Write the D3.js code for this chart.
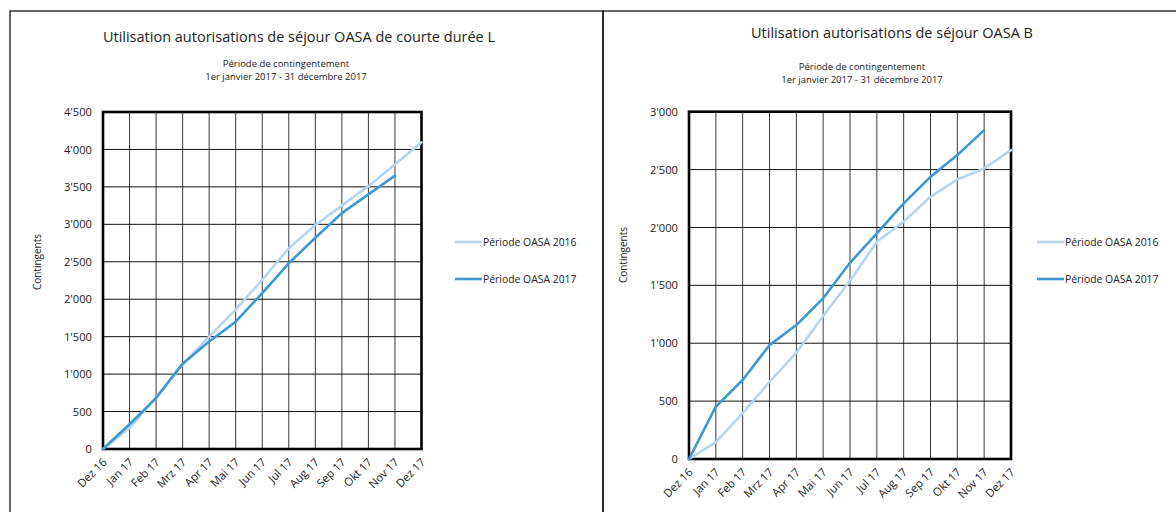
<!DOCTYPE html>
<html><head><meta charset="utf-8">
<script src="https://cdn.jsdelivr.net/npm/d3@7"></script>
<style>
body{margin:0;background:#fff;}
text{font-family:"Open Sans","Noto Sans",sans-serif;fill:#222;}
</style></head><body>
<svg id="c" width="1176" height="512"></svg>
<script>
const months = ["Dez 16","Jan 17","Feb 17","Mrz 17","Apr 17","Mai 17","Jun 17","Jul 17","Aug 17","Sep 17","Okt 17","Nov 17","Dez 17"];
const seriesNames = ["Période OASA 2016","Période OASA 2017"];
// Chart L
const lTitle = "Utilisation autorisations de séjour OASA de courte durée L";
const l2016 = [0,280,690,1130,1500,1860,2260,2680,2990,3250,3510,3800,4095];
const l2017 = [0,330,680,1140,1435,1700,2080,2480,2820,3150,3400,3650,null];
const lTicks = [0,500,1000,1500,2000,2500,3000,3500,4000,4500];
// Chart B
const bTitle = "Utilisation autorisations de séjour OASA B";
const b2016 = [0,145,395,667,918,1235,1540,1876,2049,2265,2415,2510,2668];
const b2017 = [0,452,682,984,1157,1388,1695,1949,2208,2437,2625,2841,null];
const bTicks = [0,500,1000,1500,2000,2500,3000];
const subtitle1 = "Période de contingentement";
const subtitle2 = "1er janvier 2017 - 31 décembre 2017";
const yLabel = "Contingents";

const colors = ["#b7d5ec","#3d98d1"];
const loc = d3.formatLocale({decimal:".",thousands:"'",grouping:[3],currency:["",""]});
const fmt = loc.format(",d");
const svg = d3.select("#c");
const FF = "Open Sans, Noto Sans, sans-serif";

// panel frames
svg.append("rect").attr("x",10).attr("y",11).attr("width",593).attr("height",520)
  .attr("fill","none").attr("stroke","#000").attr("stroke-width",1.2);
svg.append("rect").attr("x",603).attr("y",11).attr("width",600).attr("height",520)
  .attr("fill","none").attr("stroke","#000").attr("stroke-width",1.2);

function panel(o){
  const g = svg.append("g");
  const x = d3.scalePoint().domain(months).range([o.x0,o.x1]);
  const y = d3.scaleLinear().domain([0,d3.max(o.ticks)]).range([o.y0,o.y1]);
  // title
  g.append("text").attr("x",o.tx).attr("y",o.ty).attr("text-anchor","middle")
    .attr("font-size",14.5).text(o.title);
  g.append("text").attr("x",o.sx).attr("y",o.sy).attr("text-anchor","middle")
    .attr("font-size",9.5).text(subtitle1);
  g.append("text").attr("x",o.sx).attr("y",o.sy+12.5).attr("text-anchor","middle")
    .attr("font-size",9.5).text(subtitle2);
  // grid
  g.append("g").selectAll("line").data(months).join("line")
    .attr("x1",d=>x(d)).attr("x2",d=>x(d)).attr("y1",y.range()[0]).attr("y2",y.range()[1])
    .attr("stroke","#3a3a3a").attr("stroke-width",1);
  g.append("g").selectAll("line").data(o.ticks).join("line")
    .attr("x1",o.x0).attr("x2",o.x1).attr("y1",d=>y(d)).attr("y2",d=>y(d))
    .attr("stroke","#111").attr("stroke-width",1);
  // y axis labels
  const ya = g.append("g").attr("transform",`translate(${o.x0},0)`)
    .call(d3.axisLeft(y).tickValues(o.ticks).tickFormat(fmt).tickSize(0).tickPadding(11));
  ya.select(".domain").remove();
  ya.selectAll("text").attr("font-size",11.2).attr("font-family",FF).attr("fill","#222");
  // x axis labels
  const xa = g.append("g").attr("transform",`translate(0,${o.y0})`)
    .call(d3.axisBottom(x).tickSize(0).tickPadding(0));
  xa.select(".domain").remove();
  xa.selectAll("text").attr("font-size",11.3).attr("font-family",FF).attr("fill","#222")
    .attr("text-anchor","end").attr("dy",0).attr("transform","translate(4,14) rotate(-45)");
  // frame
  g.append("rect").attr("x",o.x0).attr("y",o.y1).attr("width",o.x1-o.x0).attr("height",o.y0-o.y1)
    .attr("fill","none").attr("stroke","#000").attr("stroke-width",2.6);
  // y label
  g.append("text").attr("transform",`translate(${o.lx},${o.ly}) rotate(-90)`)
    .attr("text-anchor","middle").attr("font-size",10).text(yLabel);
  // lines
  const line = d3.line().defined(d=>d[1]!=null).x(d=>x(d[0])).y(d=>y(d[1]));
  [o.s2016,o.s2017].forEach((s,i)=>{
    g.append("path").datum(months.map((m,j)=>[m,s[j]])).attr("d",line)
      .attr("fill","none").attr("stroke",colors[i]).attr("stroke-width",2.6)
      .attr("stroke-linejoin","round").attr("stroke-linecap","round");
  });
  // legend
  seriesNames.forEach((n,i)=>{
    const yy = o.legY + i*37;
    g.append("line").attr("x1",o.legX).attr("x2",o.legX+27).attr("y1",yy).attr("y2",yy)
      .attr("stroke",colors[i]).attr("stroke-width",2.6);
    g.append("text").attr("x",o.legX+28).attr("y",yy+3.5).attr("font-size",10.4).text(n);
  });
}

panel({title:lTitle,s2016:l2016,s2017:l2017,ticks:lTicks,
  x0:103,x1:421.5,y0:449,y1:112,tx:299,ty:42,sx:286,sy:67,lx:41,ly:262,legX:455,legY:242});
panel({title:bTitle,s2016:b2016,s2017:b2017,ticks:bTicks,
  x0:689,x1:1011,y0:459,y1:111.7,tx:892,ty:38,sx:862,sy:70,lx:627,ly:255,legX:1037,legY:242});
</script></body></html>
